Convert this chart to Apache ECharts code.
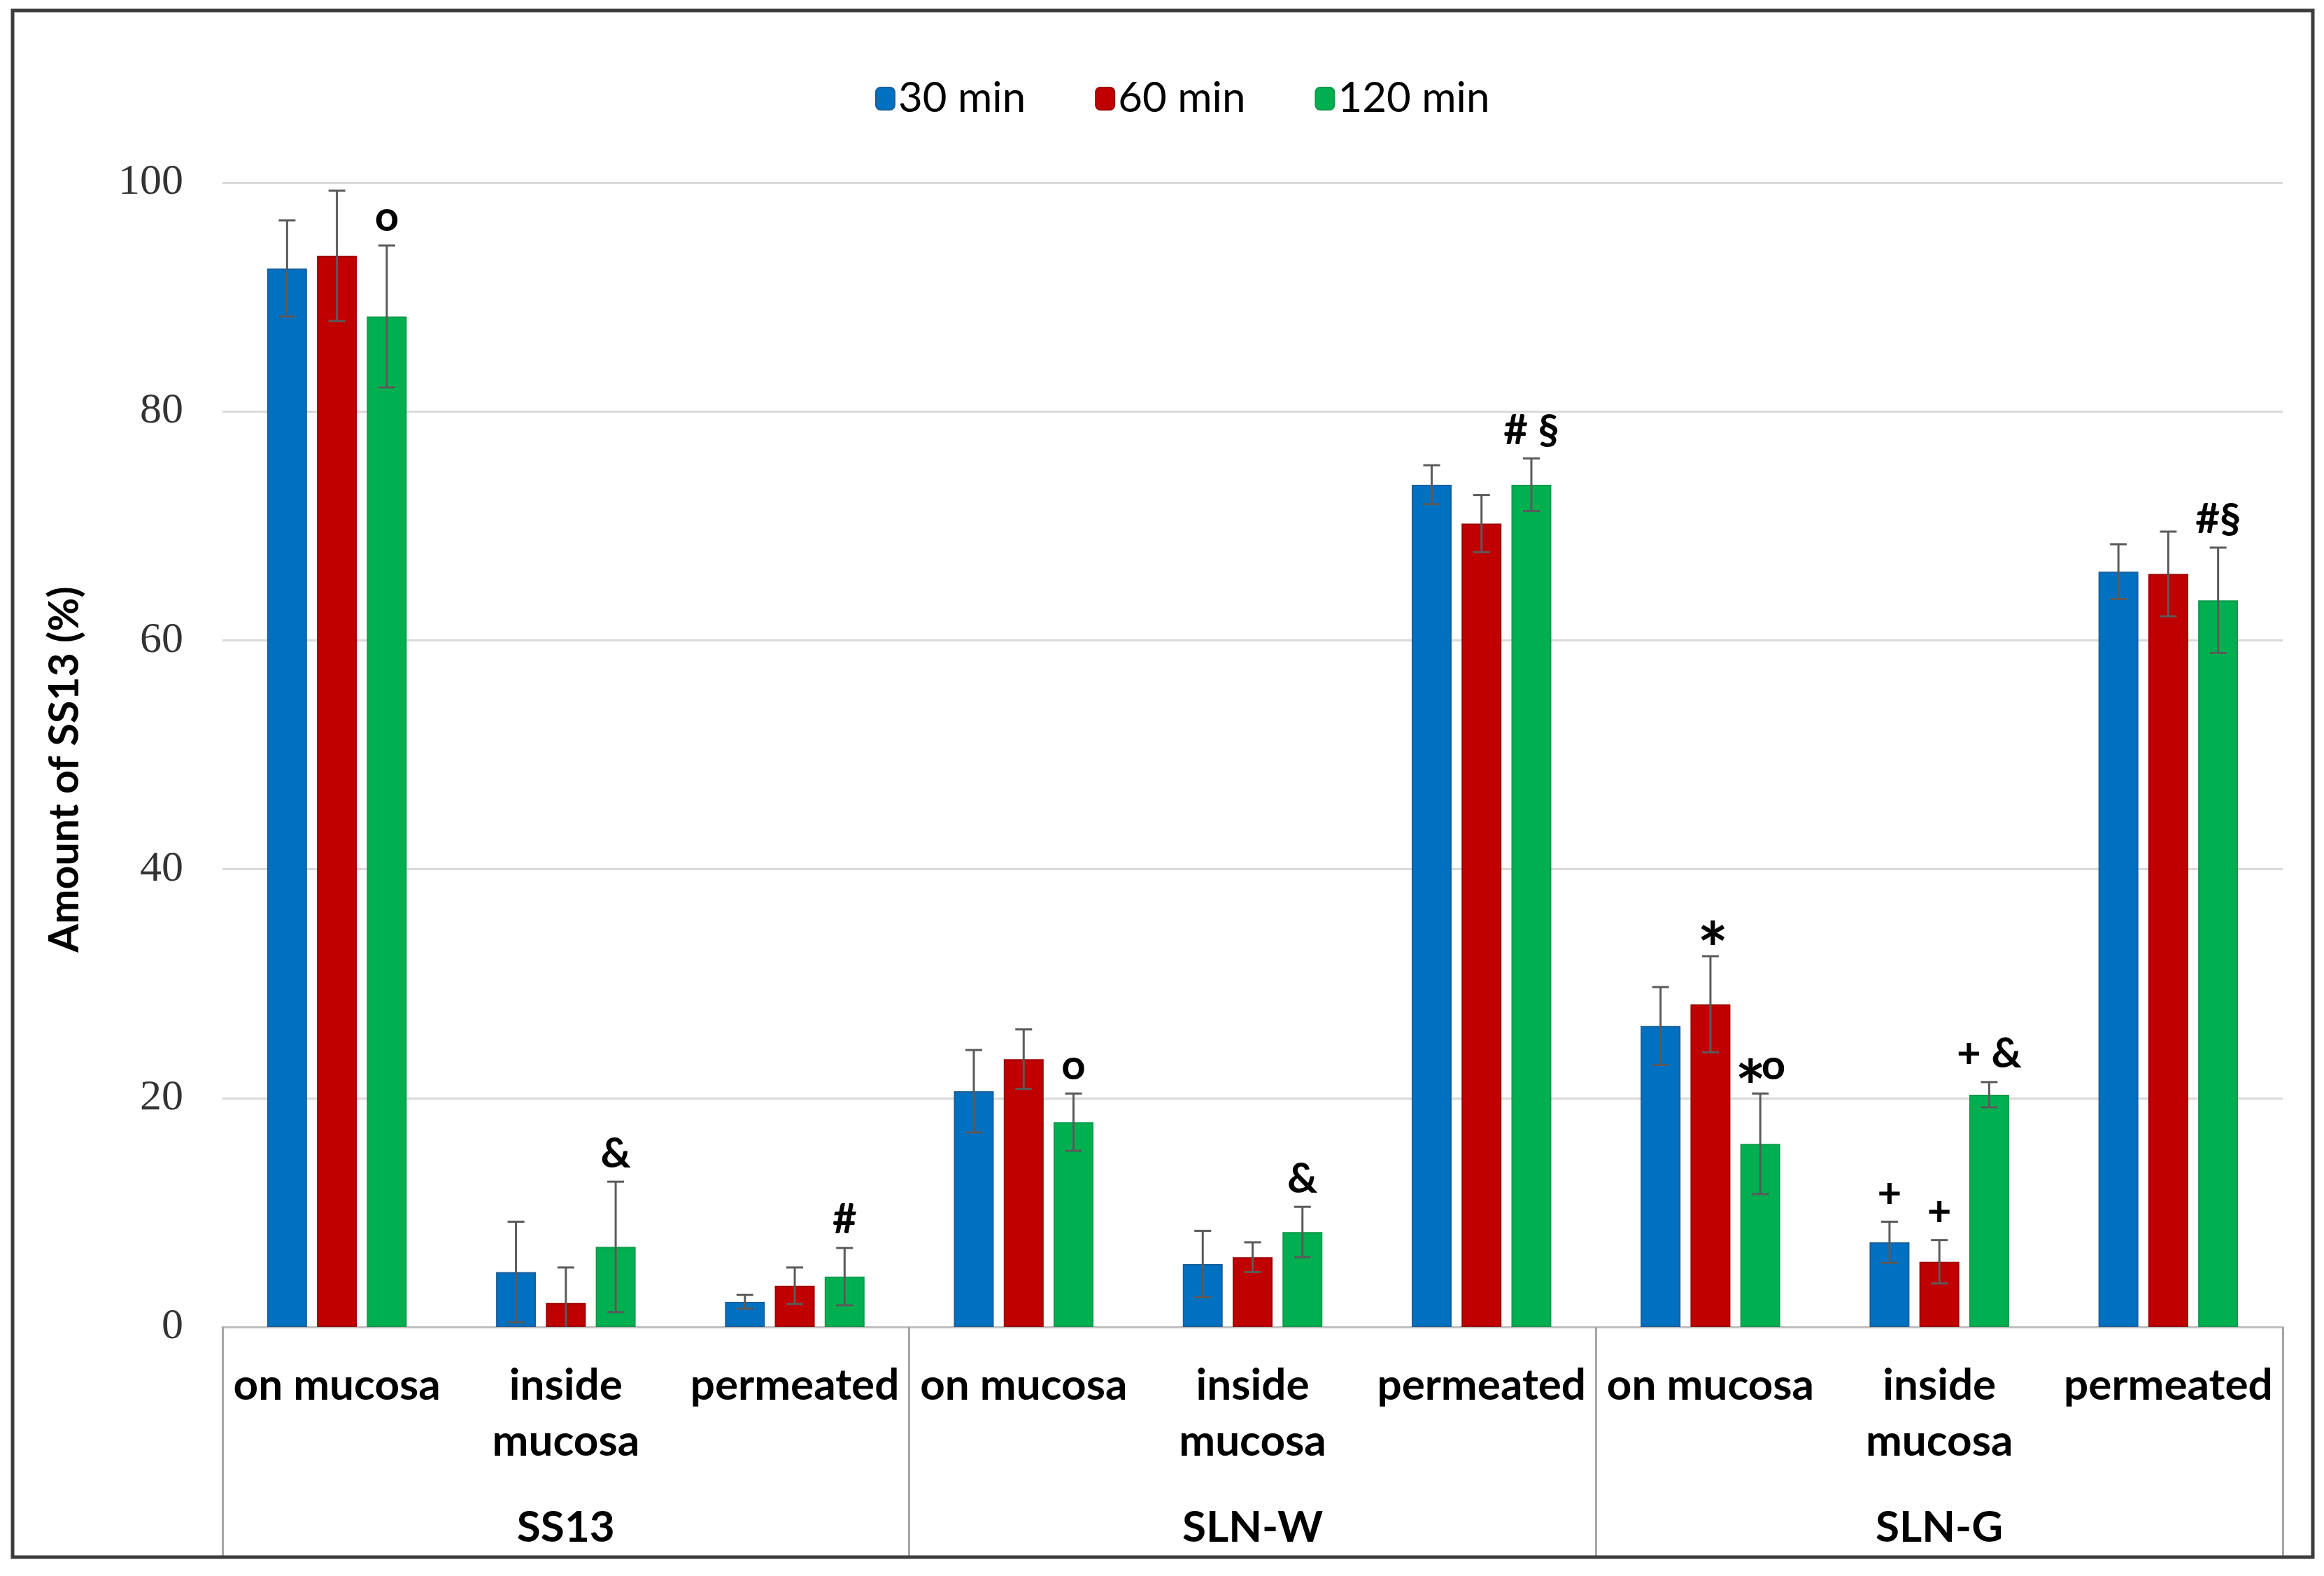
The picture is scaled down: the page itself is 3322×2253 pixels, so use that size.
<!DOCTYPE html>
<html>
<head>
<meta charset="utf-8">
<script src="https://cdn.jsdelivr.net/npm/echarts@6/dist/echarts.min.js"></script>
<style>
html,body{margin:0;padding:0;background:#fff;}
#chart{width:3322px;height:2253px;}
</style>
</head>
<body>
<div id="chart"></div>
<script>
// ---- data ----
const categories = ['on mucosa', 'inside\nmucosa', 'permeated',
                    'on mucosa', 'inside\nmucosa', 'permeated',
                    'on mucosa', 'inside\nmucosa', 'permeated'];
const groups = ['SS13', 'SLN-W', 'SLN-G'];
const seriesNames = ['30 min', '60 min', '120 min'];

const values30  = [92.5, 4.8, 2.2, 20.6, 5.5, 73.6, 26.3, 7.4, 66.0];
const errors30  = [4.2, 4.4, 0.6, 3.6, 2.9, 1.7, 3.4, 1.8, 2.4];
const marks30   = ['', '', '', '', '', '', '', '+', ''];

const values60  = [93.6, 2.1, 3.6, 23.4, 6.1, 70.2, 28.2, 5.7, 65.8];
const errors60  = [5.7, 3.1, 1.6, 2.6, 1.3, 2.5, 4.2, 1.9, 3.7];
const marks60   = ['', '', '', '', '', '', '*', '+', ''];

const values120 = [88.3, 7.0, 4.4, 17.9, 8.3, 73.6, 16.0, 20.3, 63.5];
const errors120 = [6.2, 5.7, 2.5, 2.5, 2.2, 2.3, 4.4, 1.1, 4.6];
const marks120  = ['o', '&', '#', 'o', '&', '# §', '*o', '+ &', '#§'];

const yTicks = { min: 0, max: 100, interval: 20 };

// ---- styles ----
const colors = ['#0070C0', '#C00000', '#00B050'];
const borders = ['#1a5f9e', '#9e0000', '#0f9a4a'];
const BAR_W = 57;
const GAP_RATIO = 0.25;
const MARK_FONT = 60;
const AST_FONT = 104;

const allValues = [values30, values60, values120];
const allErrors = [errors30, errors60, errors120];
const allMarks = [marks30, marks60, marks120];

const measureCtx = document.createElement('canvas').getContext('2d');
function textWidth(t, size) {
  measureCtx.font = 'bold ' + size + 'px Lato';
  return measureCtx.measureText(t).width;
}

const chart = echarts.init(document.getElementById('chart'), null, { renderer: 'canvas' });

const barSeries = seriesNames.map((name, i) => ({
  name: name,
  type: 'bar',
  data: allValues[i],
  barWidth: BAR_W,
  barGap: (GAP_RATIO * 100) + '%',
  xAxisIndex: 0,
  itemStyle: { color: colors[i], borderColor: borders[i], borderWidth: 2 },
  z: 2
}));

function markElements(mark, cx, bottomY) {
  // split into glyph runs; asterisks are drawn larger and lowered
  const parts = [];
  for (const ch of mark) {
    const isAst = ch === '*';
    const size = isAst ? AST_FONT : MARK_FONT;
    parts.push({ ch: ch, isAst: isAst, size: size, w: textWidth(ch, size) * (isAst ? 0.85 : 1) });
  }
  const total = parts.reduce((s, p) => s + p.w, 0);
  let x = cx - total / 2;
  const midY = bottomY - MARK_FONT / 2;
  const out = [];
  parts.forEach(p => {
    if (p.ch !== ' ') {
      out.push({
        type: 'text',
        style: {
          text: p.ch, x: x, y: p.isAst ? midY + 34 : midY,
          align: 'left', verticalAlign: 'middle',
          fontFamily: 'Lato', fontWeight: 'bold', fontSize: p.size, fill: '#000'
        }
      });
    }
    x += p.w;
  });
  return out;
}

const errSeries = seriesNames.map((name, i) => ({
  name: name + ' err',
  type: 'custom',
  xAxisIndex: 0,
  z: 10,
  silent: true,
  data: allValues[i].map((v, k) => [k, v, allErrors[i][k]]),
  encode: { x: 0, y: 1 },
  renderItem: function (params, api) {
    const k = api.value(0);
    const v = api.value(1);
    const e = api.value(2);
    const mark = allMarks[i][k];
    const off = (i - 1) * BAR_W * (1 + GAP_RATIO);
    const low = Math.max(v - e, yTicks.min);
    const top = api.coord([k, v + e]);
    const bot = api.coord([k, low]);
    const x = top[0] + off;
    const cap = 12;
    const ls = { stroke: '#5a5a5a', lineWidth: 3 };
    const children = [
      { type: 'line', shape: { x1: x, y1: top[1], x2: x, y2: bot[1] }, style: ls },
      { type: 'line', shape: { x1: x - cap, y1: top[1], x2: x + cap, y2: top[1] }, style: ls }
    ];
    if (v - e >= yTicks.min) {
      children.push({ type: 'line', shape: { x1: x - cap, y1: bot[1], x2: x + cap, y2: bot[1] }, style: ls });
    }
    if (mark) {
      markElements(mark, x, top[1] - 10).forEach(el => children.push(el));
    }
    return { type: 'group', children: children };
  }
}));

const option = {
  backgroundColor: '#ffffff',
  animation: false,
  legend: {
    data: seriesNames,
    left: 1246,
    top: 106,
    itemWidth: 27,
    itemHeight: 32,
    itemGap: 99,
    textStyle: { fontFamily: 'Lato', fontSize: 60, color: '#000' }
  },
  grid: { left: 318, right: 59, top: 261, bottom: 356, containLabel: false },
  xAxis: [
    {
      type: 'category', data: categories, position: 'bottom',
      axisLine: { show: true, lineStyle: { color: '#bfbfbf', width: 3 } },
      axisTick: { show: false },
      axisLabel: { interval: 0, fontFamily: 'Lato', fontWeight: 'bold', fontSize: 62,
                   color: '#000', lineHeight: 80, margin: 44 },
      splitLine: { show: false }
    },
    {
      type: 'category', data: groups, position: 'bottom',
      axisLine: { show: false },
      axisTick: { show: true, length: 328, lineStyle: { color: '#a6a6a6', width: 3 } },
      axisLabel: { interval: 0, fontFamily: 'Lato', fontWeight: 'bold', fontSize: 62,
                   color: '#000', margin: 256 },
      splitLine: { show: false }
    },
    {
      type: 'category', data: groups, position: 'bottom', offset: 328,
      axisLine: { show: true, lineStyle: { color: '#a6a6a6', width: 3 } },
      axisTick: { show: false },
      axisLabel: { show: false },
      splitLine: { show: false }
    }
  ],
  yAxis: {
    type: 'value', min: yTicks.min, max: yTicks.max, interval: yTicks.interval,
    axisLine: { show: false }, axisTick: { show: false },
    axisLabel: { fontFamily: 'Liberation Serif', fontSize: 62, color: '#333333', margin: 56 },
    splitLine: { lineStyle: { color: '#d9d9d9', width: 3 } },
    name: 'Amount of SS13 (%)', nameLocation: 'middle', nameGap: 196,
    nameTextStyle: { fontFamily: 'Lato', fontWeight: 'bold', fontSize: 59, color: '#000',
                     padding: [0, 42, 0, 0] }
  },
  graphic: [
    { type: 'rect', shape: { x: 18, y: 15, width: 3288, height: 2211 },
      style: { fill: 'none', stroke: '#3c3c3c', lineWidth: 5 }, z: 100 }
  ],
  series: barSeries.concat(errSeries)
};

chart.setOption(option);
</script>
</body>
</html>
